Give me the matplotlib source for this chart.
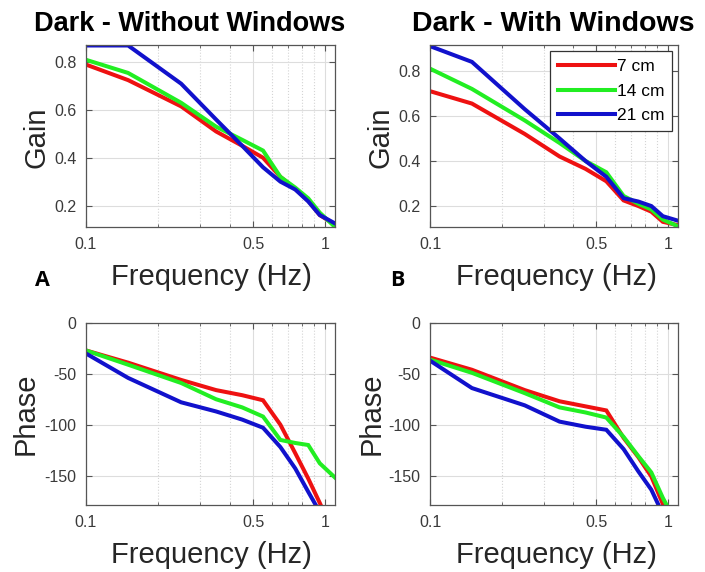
import matplotlib
matplotlib.use('Agg')
import matplotlib.pyplot as plt
from matplotlib.ticker import FixedLocator, NullFormatter

# Frequências e dados
freqs = [0.1, 0.15, 0.25, 0.35, 0.45, 0.55, 0.65, 0.75, 0.85, 0.95, 1.1]

gain_a_7 = [0.79, 0.725, 0.615, 0.51, 0.45, 0.40, 0.32, 0.27, 0.22, 0.16, 0.12]
gain_a_14 = [0.81, 0.755, 0.63, 0.53, 0.475, 0.43, 0.32, 0.275, 0.23, 0.17, 0.11]
gain_a_21 = [0.87, 0.87, 0.71, 0.56, 0.45, 0.36, 0.30, 0.267, 0.217, 0.16, 0.125]

gain_b_7 = [0.71, 0.655, 0.52, 0.42, 0.365, 0.31, 0.225, 0.20, 0.175, 0.13, 0.115]
gain_b_14 = [0.81, 0.72, 0.58, 0.48, 0.40, 0.35, 0.245, 0.21, 0.185, 0.14, 0.11]
gain_b_21 = [0.91, 0.84, 0.63, 0.50, 0.40, 0.33, 0.235, 0.22, 0.20, 0.155, 0.135]

phase_a_7 = [-27, -39, -56, -66, -71, -76, -100, -128, -153, -177, -210]
phase_a_14 = [-27, -41, -59, -75, -83, -92, -115, -118, -120, -138, -152]
phase_a_21 = [-30, -54, -78, -87, -95, -103, -122, -143, -166, -186, -215]

phase_b_7 = [-34, -46, -66, -77, -82, -86, -113, -132, -151, -178, -210]
phase_b_14 = [-36, -49, -69, -83, -88, -93, -112, -131, -147, -172, -200]
phase_b_21 = [-37, -64, -81, -97, -102, -105, -124, -146, -164, -188, -215]

labels = ['7 cm', '14 cm', '21 cm']
cores = ['#ee1111', '#22ee22', '#1111cc']

W, H = 705, 572
plt.rcParams['font.family'] = ['Liberation Sans', 'DejaVu Sans']

fig = plt.figure(figsize=(W / 100, H / 100), dpi=100)


def px_ax(l, t, r, b):
    return fig.add_axes([l / W, 1 - b / H, (r - l) / W, (b - t) / H])


def txt(x, y, s, **kw):
    fig.text(x / W, 1 - y / H, s, ha='center', va='center', **kw)


def estilo(ax, ylim, yticks):
    ax.set_xscale('log')
    ax.set_xlim(0.1, 1.1)
    ax.set_ylim(*ylim)
    ax.xaxis.set_major_locator(FixedLocator([0.1, 0.5, 1]))
    ax.set_xticklabels(['0.1', '0.5', '1'])
    ax.xaxis.set_minor_locator(FixedLocator([0.2, 0.3, 0.4, 0.6, 0.7, 0.8, 0.9]))
    ax.xaxis.set_minor_formatter(NullFormatter())
    ax.set_yticks(yticks)
    ax.set_yticklabels([('%g' % v) for v in yticks])
    ax.grid(True, which='major', color='#dddddd', linewidth=0.8, linestyle='-')
    ax.grid(True, which='minor', axis='x', color='#d4d4d4', linewidth=0.8, linestyle=':')
    ax.set_axisbelow(True)
    ax.tick_params(which='both', direction='in', top=True, right=True,
                   labelsize=11.5, labelcolor='#3a3a3a', color='#555555', pad=7)
    ax.tick_params(which='major', length=4)
    ax.tick_params(which='minor', length=2.5)
    for s in ax.spines.values():
        s.set_color('#555555')
        s.set_linewidth(0.9)


ax1 = px_ax(86, 45, 335, 227)
ax2 = px_ax(430, 45, 678, 227)
ax3 = px_ax(86, 323, 335, 505)
ax4 = px_ax(430, 323, 678, 505)

for ax, series in [(ax1, [gain_a_7, gain_a_14, gain_a_21]),
                   (ax2, [gain_b_7, gain_b_14, gain_b_21]),
                   (ax3, [phase_a_7, phase_a_14, phase_a_21]),
                   (ax4, [phase_b_7, phase_b_14, phase_b_21])]:
    for vals, c, lab in zip(series, cores, labels):
        ax.plot(freqs, vals, color=c, linewidth=2.9, label=lab, solid_joinstyle='miter')

estilo(ax1, (0.11, 0.872), [0.2, 0.4, 0.6, 0.8])
estilo(ax2, (0.107, 0.915), [0.2, 0.4, 0.6, 0.8])
estilo(ax3, (-179, 0), [-150, -100, -50, 0])
estilo(ax4, (-179, 0), [-150, -100, -50, 0])

leg = ax2.legend(loc='upper right', fontsize=12.5, handlelength=3.3, handletextpad=0.1,
                 borderaxespad=0.35, borderpad=0.45, labelspacing=0.55, fancybox=False,
                 framealpha=1, edgecolor='#333333')
leg.get_frame().set_linewidth(0.9)

# Títulos e rótulos
txt(190, 24, 'Dark - Without Windows', fontsize=19.5, fontweight='bold')
txt(553, 24, 'Dark - With Windows', fontsize=20.5, fontweight='bold')

lab = dict(fontsize=21, color='#262626')
txt(211, 277, 'Frequency (Hz)', **lab)
txt(556, 277, 'Frequency (Hz)', **lab)
txt(211, 555, 'Frequency (Hz)', **lab)
txt(556, 555, 'Frequency (Hz)', **lab)
txt(36, 137, 'Gain', rotation=90, **lab)
txt(380, 137, 'Gain', rotation=90, **lab)
txt(26, 414, 'Phase', rotation=90, **lab)
txt(372, 414, 'Phase', rotation=90, **lab)

txt(42, 280, 'A', fontsize=15.5, fontweight='bold', family=['Open Sans', 'DejaVu Sans'])
txt(397, 280, 'B', fontsize=15.5, fontweight='bold', family=['Open Sans', 'DejaVu Sans'])

fig.savefig('out.png', dpi=100)
